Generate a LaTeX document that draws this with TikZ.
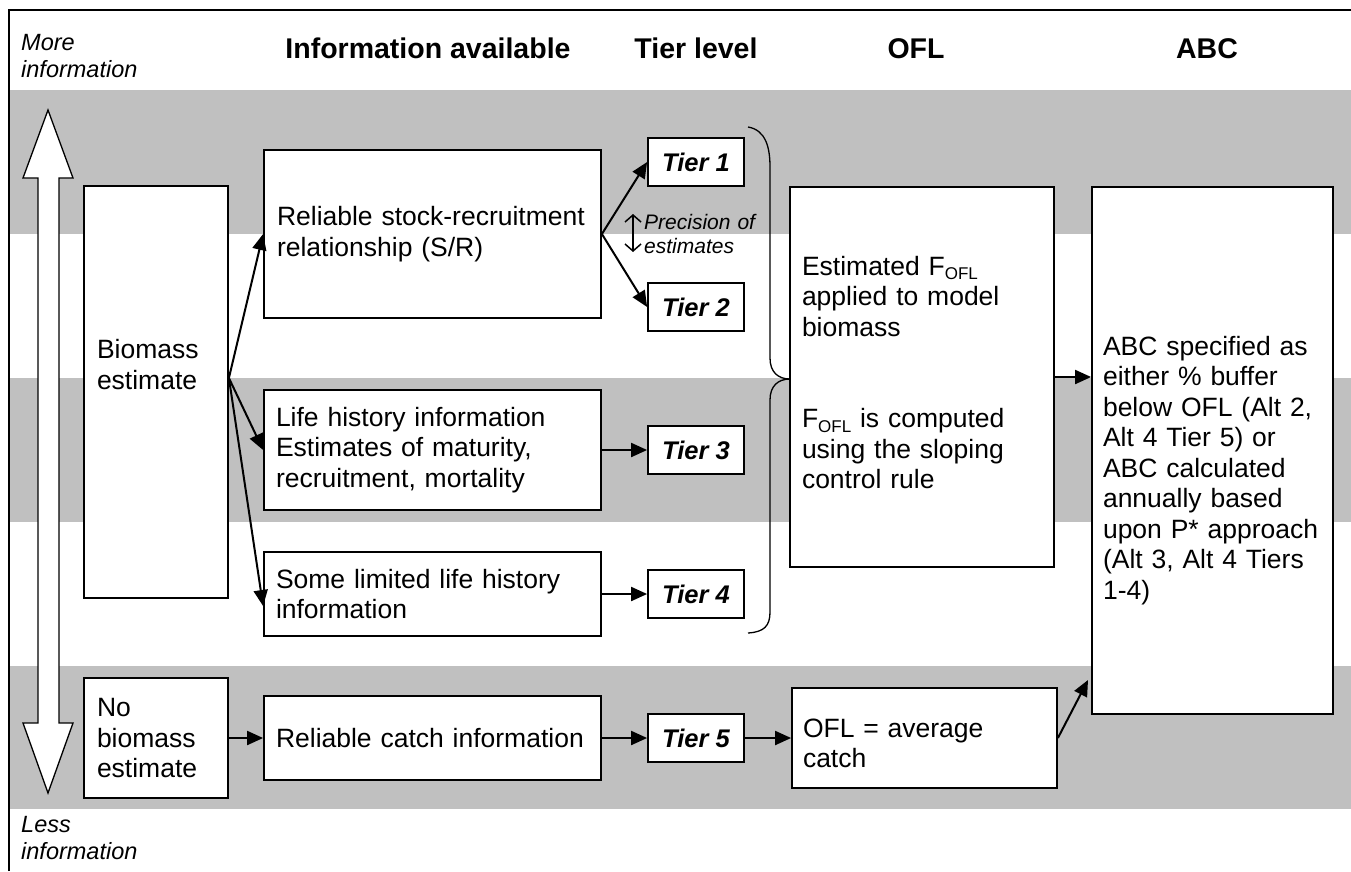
\documentclass[tikz,border=0pt]{standalone}
\usepackage{fontspec}
\setmainfont{Liberation Sans}
\usetikzlibrary{arrows.meta,calc}
\definecolor{bandgray}{RGB}{192,192,192}
\newcommand\bodyfont{\fontsize{26.5}{30.5}\selectfont}
\newcommand\headfont{\fontsize{28.5}{32}\selectfont\bfseries}
\newcommand\tierfont{\fontsize{25.5}{30}\selectfont\bfseries\itshape}
\newcommand\sideit{\fontsize{23.5}{27}\selectfont\itshape}
\newcommand\precfont{\fontsize{21}{24}\selectfont\itshape}
\newcommand\lowsub[1]{\raisebox{-4.7pt}{\fontsize{17}{17}\selectfont #1}}
\begin{document}
\begin{tikzpicture}[x=1pt,y=-1pt,
  box/.style={draw=black, line width=1.8pt, fill=white, inner ysep=0pt, align=left, font=\bodyfont},
  tier/.style={draw=black, line width=1.8pt, fill=white, minimum width=96pt, minimum height=48pt, inner sep=0pt, font=\tierfont},
  arr/.style={line width=2pt, -{Triangle[length=16pt,width=14pt]}},
  head/.style={anchor=base, inner sep=0pt, font=\headfont},
  side/.style={anchor=base west, align=left, text width=160pt, inner sep=0pt, font=\sideit}]
\useasboundingbox (0,0) rectangle (1351,871);
% gray bands
\fill[bandgray] (8.5,90) rectangle (1351,234);
\fill[bandgray] (8.5,378) rectangle (1351,522);
\fill[bandgray] (8.5,666) rectangle (1351,809);
% frame
\draw[line width=2pt] (8.5,871) -- (8.5,10) -- (1351,10);
% headers
\node[side] (more) at (21,50) {More\\information};
\node[side] (less) at (21,832) {Less\\information};
\node[head] (h1) at (428,58) {Information available};
\node[head] (h2) at (696,58) {Tier level};
\node[head] (h3) at (916,58) {OFL};
\node[head] (h4) at (1207,58) {ABC};
% big double arrow
\draw[line width=1.3pt, fill=white] (48,110) -- (73,178) -- (59,178) -- (59,723) -- (73,723) -- (48,793) -- (23,723) -- (38,723) -- (38,178) -- (23,178) -- cycle;
% brace
\draw[line width=1.3pt] (748,127) .. controls (766,130) and (770,148) .. (770,167) -- (770,358)
  .. controls (770,372) and (778,379) .. (790,379)
  .. controls (778,379) and (770,386) .. (770,400) -- (770,612)
  .. controls (770,626) and (764,632) .. (748,633);
% boxes
\node[box, inner xsep=13pt, text width=118pt, minimum height=412pt, text depth=86pt] (bio) at (156,392) {Biomass\\estimate};
\node[box, inner xsep=13pt, text width=118pt, minimum height=120pt] (nob) at (156,738) {No\\biomass\\estimate};
\node[box, inner xsep=13pt, text width=311pt, minimum height=168pt] (stock) at (432.5,234) {Reliable stock-recruitment\\relationship (S/R)};
\node[box, inner xsep=12pt, text width=313pt, minimum height=120pt] (life) at (432.5,450) {Life history information\\Estimates of maturity,\\recruitment, mortality};
\node[box, inner xsep=12pt, text width=313pt, minimum height=84pt] (lim) at (432.5,594) {Some limited life history\\information};
\node[box, inner xsep=12pt, text width=313pt, minimum height=84pt] (catch) at (432.5,738) {Reliable catch information};
\node[tier] (t1) at (696,162) {Tier 1};
\node[tier] (t2) at (696,307) {Tier 2};
\node[tier] (t3) at (696,450) {Tier 3};
\node[tier] (t4) at (696,594) {Tier 4};
\node[tier] (t5) at (696,738) {Tier 5};
\node[box, inner xsep=12pt, text width=240pt, minimum height=380pt, text depth=223pt] (ofl) at (922,377)
  {Estimated F\lowsub{OFL}\\applied to model\\biomass\\[61pt]F\lowsub{OFL} is computed\\using the sloping\\control rule};
\node[box, inner xsep=11pt, text width=243pt, minimum height=100pt, text height=29.5pt] (ofl2) at (924.5,738) {OFL = average\\catch};
\node[box, inner xsep=11pt, text width=219pt, minimum height=527pt, text height=59pt] (abc) at (1212.5,450.5)
  {ABC specified as\\either \% buffer\\below OFL (Alt 2,\\Alt 4 Tier 5) or\\ABC calculated\\annually based\\upon P* approach\\(Alt 3, Alt 4 Tiers\\1-4)};
% precision label
\node[anchor=base west, align=left, text width=130pt, inner sep=0pt, font=\precfont] (prec) at (644,229) {Precision of\\estimates};
\coordinate (pa) at (633,214);
\coordinate (pb) at (633,252);
\draw[line width=1.5pt, {Straight Barb[length=7pt,width=16pt]}-{Straight Barb[length=7pt,width=16pt]}] (pa) -- (pb);
% connectors
\coordinate (fan) at ([yshift=14pt]bio.east);
\draw[arr] (fan) -- (stock.west);
\draw[arr] (fan) -- (life.west);
\draw[arr] (fan) -- ([yshift=-12pt]lim.west);
\draw[arr] (nob.east) -- (catch.west);
\draw[arr] (stock.east) -- (t1.west);
\draw[arr] (stock.east) -- (t2.west);
\draw[arr] (life.east) -- (t3.west);
\draw[arr] (lim.east) -- (t4.west);
\draw[arr] (catch.east) -- (t5.west);
\draw[arr] (t5.east) -- (ofl2.west);
\draw[arr] (ofl.east) -- (ofl.east -| abc.west);
\coordinate (abcin) at (1088,680);
\draw[arr] (ofl2.east) -- (abcin);
\end{tikzpicture}
\end{document}
